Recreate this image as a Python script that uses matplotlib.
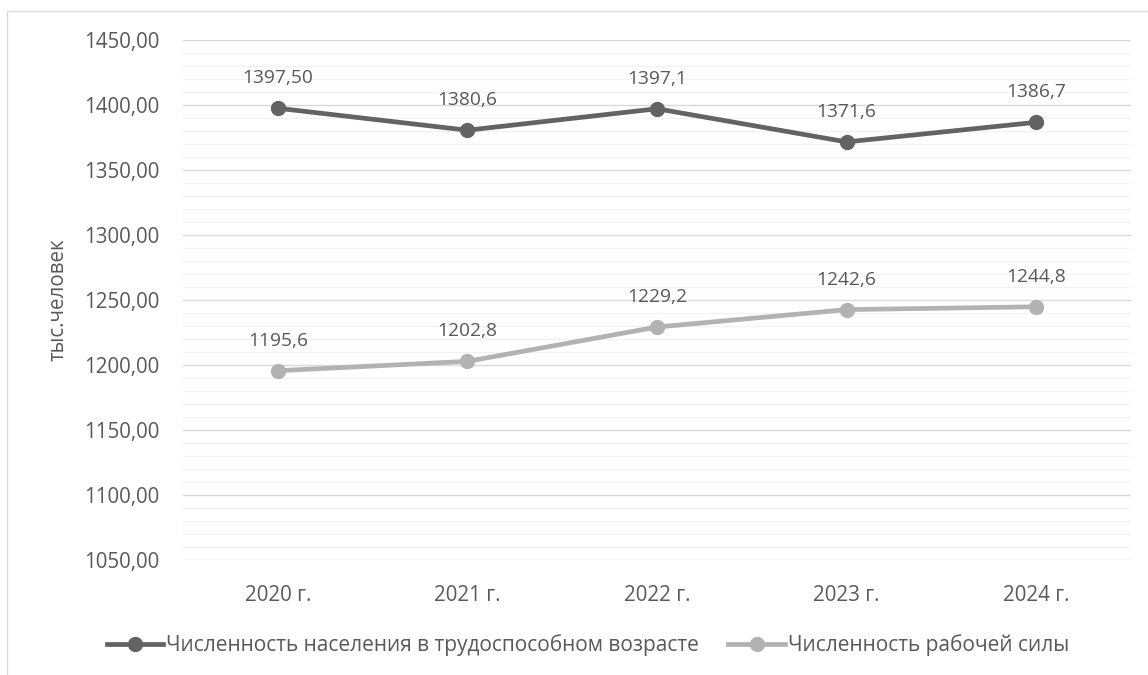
import matplotlib
matplotlib.use("Agg")
import matplotlib.pyplot as plt
from matplotlib.patches import Rectangle
from matplotlib.ticker import MultipleLocator, FuncFormatter
from matplotlib.lines import Line2D

categories = ["2020 г.", "2021 г.", "2022 г.", "2023 г.", "2024 г."]
pop_working_age = [1397.50, 1380.6, 1397.1, 1371.6, 1386.7]
pop_labels = ["1397,50", "1380,6", "1397,1", "1371,6", "1386,7"]
labor_force = [1195.6, 1202.8, 1229.2, 1242.6, 1244.8]
labor_labels = ["1195,6", "1202,8", "1229,2", "1242,6", "1244,8"]
series_names = ["Численность населения в трудоспособном возрасте", "Численность рабочей силы"]
y_label = "тыс.человек"

plt.rcParams['font.family'] = ['Open Sans', 'DejaVu Sans']
txt = '#595959'

fig = plt.figure(figsize=(11.48, 6.75), dpi=100)
fig.patches.append(Rectangle((7/1148, -0.1), 1.2, (675-11)/675 + 0.1, transform=fig.transFigure,
                             fill=False, edgecolor='#d9d9d9', linewidth=1.0))
ax = fig.add_axes([183/1148, 1-560/675, (1131-183)/1148, (560-40)/675])

x = list(range(len(categories)))
dark = '#636363'
light = '#b2b2b2'
ax.plot(x, pop_working_age, color=dark, lw=3.4, marker='o', ms=10, solid_capstyle='round', zorder=3)
ax.plot(x, labor_force, color=light, lw=3.4, marker='o', ms=10, solid_capstyle='round', zorder=3)

for xi, v, l in zip(x, pop_working_age, pop_labels):
    ax.annotate(l, (xi, v), xytext=(0, 21.5), textcoords='offset points', ha='center', va='center',
                fontsize=13.8, color=txt)
for xi, v, l in zip(x, labor_force, labor_labels):
    ax.annotate(l, (xi, v), xytext=(0, 21.5), textcoords='offset points', ha='center', va='center',
                fontsize=13.8, color=txt)

ax.set_xlim(-0.5, len(categories) - 0.5)
ax.set_ylim(1050, 1450)
ax.yaxis.set_major_locator(MultipleLocator(50))
ax.yaxis.set_minor_locator(MultipleLocator(10))
ax.yaxis.set_major_formatter(FuncFormatter(lambda v, p: f"{v:.2f}".replace('.', ',')))
ax.set_xticks(x)
ax.set_xticklabels(categories)
ax.grid(which='major', axis='y', color='#d9d9d9', lw=1.0, zorder=0)
ax.grid(which='minor', axis='y', color='#f2f2f2', lw=1.0, zorder=0)
ax.set_axisbelow(True)
for s in ax.spines.values():
    s.set_visible(False)
ax.tick_params(axis='both', which='both', length=0, labelsize=14.8, colors=txt)
ax.tick_params(axis='y', pad=17)
ax.tick_params(axis='x', pad=18)
ax.set_ylabel(y_label, fontsize=14.8, color=txt, labelpad=11)

handles = [Line2D([0], [0], color=dark, lw=3.4, marker='o', ms=10),
           Line2D([0], [0], color=light, lw=3.4, marker='o', ms=10)]
fig.legend(handles, series_names, loc='center', bbox_to_anchor=(588/1148, 1-645/675), ncol=2,
           frameon=False, fontsize=15, labelcolor=txt, handlelength=2.7, handletextpad=0.15,
           columnspacing=1.4)

fig.savefig("out.png", dpi=100)
